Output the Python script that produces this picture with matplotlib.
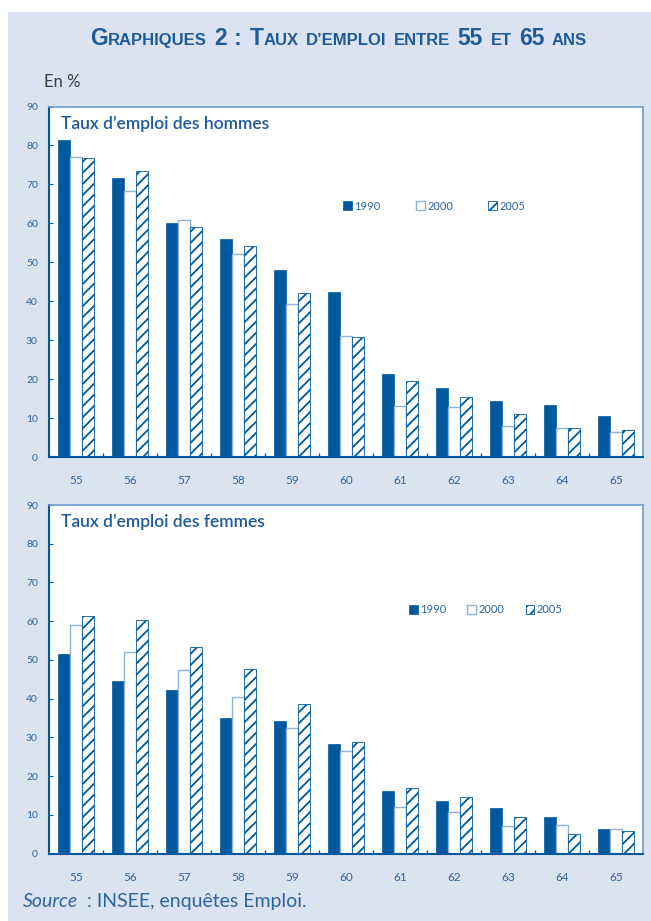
import numpy as np
import matplotlib
matplotlib.use("Agg")
import matplotlib.pyplot as plt
from matplotlib.patches import Rectangle

plt.rcParams['font.family'] = ['Lato', 'DejaVu Sans']

ages = ['55', '56', '57', '58', '59', '60', '61', '62', '63', '64', '65']
years = ['1990', '2000', '2005']

hommes_1990 = [81.4, 71.6, 60.2, 56.0, 48.0, 42.3, 21.3, 17.7, 14.3, 13.3, 10.5]
hommes_2000 = [77.1, 68.4, 60.8, 52.0, 39.4, 31.1, 13.2, 12.9, 7.9, 7.5, 6.5]
hommes_2005 = [76.7, 73.4, 59.1, 54.2, 42.1, 30.7, 19.5, 15.3, 11.0, 7.5, 7.0]

femmes_1990 = [51.6, 44.5, 42.1, 35.0, 34.2, 28.2, 16.2, 13.6, 11.8, 9.4, 6.4]
femmes_2000 = [59.0, 52.1, 47.4, 40.3, 32.3, 26.4, 11.9, 10.7, 7.0, 7.3, 6.4]
femmes_2005 = [61.3, 60.3, 53.2, 47.7, 38.6, 28.7, 16.9, 14.6, 9.3, 5.0, 5.7]

dark = '#00599c'
light = '#8fb2d9'
txt = '#2c64a4'
bg = '#dce3f0'

plt.rcParams['hatch.linewidth'] = 1.3

fig = plt.figure(figsize=(6.51, 9.21), dpi=100)
fig.patches.append(Rectangle((8/651, 0), 1, 1 - 12/921, transform=fig.transFigure,
                             facecolor=bg, edgecolor='none', zorder=-10))
renderer = fig.canvas.get_renderer()


def panel(rect, d90, d00, d05, title, leg_xy, colsp):
    ax = fig.add_axes(rect)
    x = np.arange(len(ages))
    w = 0.222
    ax.bar(x - w, d90, w, color=dark, edgecolor=dark, linewidth=0.5, label=years[0])
    ax.bar(x, d00, w, color='white', edgecolor=light, linewidth=1.0, label=years[1])
    ax.bar(x + w, d05, w, color='white', edgecolor=dark, linewidth=0.6, hatch='///', label=years[2])
    ax.set_xlim(-0.5, len(ages) - 0.5)
    ax.set_ylim(0, 90)
    ax.set_yticks(range(0, 91, 10))
    ax.set_xticks(x)
    ax.set_xticklabels(ages)
    ax.set_xticks(np.arange(0.5, len(ages) - 1, 1), minor=True)
    ax.tick_params(axis='x', which='major', length=0, pad=13, labelsize=8.5, labelcolor=txt)
    ax.tick_params(axis='x', which='minor', direction='in', length=3, color=dark, width=1)
    ax.tick_params(axis='y', direction='in', length=3, color=dark, width=0.8,
                   labelsize=7.5, labelcolor=txt, pad=8)
    for s in ['left', 'bottom']:
        ax.spines[s].set_color(dark)
        ax.spines[s].set_linewidth(1.5)
    for s in ['top', 'right']:
        ax.spines[s].set_color('#6e9ccf')
        ax.spines[s].set_linewidth(1.2)
    ax.text(0.02, 0.975, title, transform=ax.transAxes, ha='left', va='top',
            fontsize=12.5, color='#1f5a99', fontweight='semibold')
    leg = ax.legend(loc='center left', bbox_to_anchor=leg_xy, ncol=3, frameon=False,
                    fontsize=8, handlelength=0.8, handleheight=0.8, handletextpad=0.2,
                    columnspacing=colsp, borderpad=0, borderaxespad=0)
    for t in leg.get_texts():
        t.set_color(txt)
    return ax


panel([49/651, 1 - 457/921, 594/651, 350.5/921], hommes_1990, hommes_2000, hommes_2005,
      'Taux d\u2019emploi des hommes', (0.495, 0.716), 3.2)
panel([49/651, 1 - 853.5/921, 594/651, 348.5/921], femmes_1990, femmes_2000, femmes_2005,
      'Taux d\u2019emploi des femmes', (0.606, 0.699), 1.9)

fig.text(44/651, 1 - 82/921, 'En %', fontsize=12, color='#3a3a3a', va='center', ha='left')

src = fig.text(23/651, 1 - 901/921, 'Source', fontsize=14, color=txt, style='italic',
               va='center', ha='left')
sw = src.get_window_extent(renderer).width
fig.text((23 + sw + 9)/651, 1 - 901/921, ': INSEE, enqu\u00eates Emploi.', fontsize=14,
         color=txt, va='center', ha='left')

# title in small caps, built from pieces
pieces = [('G', 1), ('RAPHIQUES', 0), (' ', 2), ('2', 1), (' ', 2), (':', 1), (' ', 2),
          ('T', 1), ('AUX', 0), (' ', 2), ('D\u2019EMPLOI', 0), (' ', 2), ('ENTRE', 0), (' ', 2),
          ('55', 1), (' ', 2), ('ET', 0), (' ', 2), ('65', 1), (' ', 2), ('ANS', 0)]
tfont = ['Liberation Sans', 'DejaVu Sans']
objs = []
widths = []
for s, big in pieces:
    if big == 2:
        objs.append(None)
        widths.append(7.5)
        continue
    t = fig.text(0, 1 - 45/921, s, fontsize=16.5 if big else 12, fontweight='bold',
                 family=tfont, color='#1f5a99', va='baseline', ha='left')
    objs.append(t)
    widths.append(t.get_window_extent(renderer).width)
xpos = 90
for t, wd in zip(objs, widths):
    if t is not None:
        t.set_x(xpos / fig.bbox.width)
    xpos += wd

fig.savefig('out.png', dpi=100)
